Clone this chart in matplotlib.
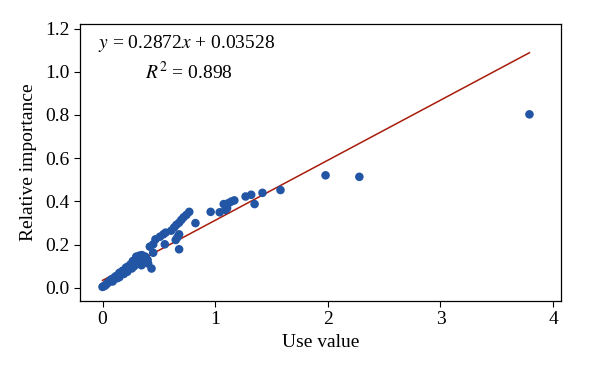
import matplotlib
matplotlib.use("Agg")
import matplotlib.pyplot as plt

# use value vs relative importance
use_value = [3.79, 2.28, 1.98, 1.58, 1.42, 1.35, 1.32, 1.27, 1.17, 1.145,
             1.12, 1.076, 1.09, 1.04, 1.106, 0.96, 0.825, 0.77, 0.745, 0.72,
             0.70, 0.68, 0.656, 0.636, 0.61, 0.68, 0.665, 0.65, 0.68, 0.56,
             0.54, 0.51, 0.47, 0.553, 0.45, 0.42, 0.45, 0.35, 0.435, 0.405,
             0.346, 0.30, 0.40, 0.38, 0.36, 0.33, 0.31, 0.29, 0.27, 0.25,
             0.26, 0.23, 0.21, 0.20, 0.18, 0.17, 0.15, 0.14, 0.12, 0.11,
             0.10, 0.08, 0.07, 0.06, 0.05, 0.04, 0.03, 0.02, 0.01, 0.0,
             0.22, 0.19, 0.28, 0.32, 0.15, 0.30, 0.13, 0.09]
rel_importance = [0.803, 0.514, 0.521, 0.453, 0.44, 0.388, 0.431, 0.423, 0.405, 0.40,
                  0.393, 0.388, 0.361, 0.35, 0.369, 0.352, 0.30, 0.352, 0.338, 0.327,
                  0.315, 0.302, 0.292, 0.28, 0.265, 0.248, 0.234, 0.222, 0.179, 0.256,
                  0.248, 0.237, 0.225, 0.202, 0.202, 0.191, 0.163, 0.152, 0.09, 0.113,
                  0.105, 0.124, 0.13, 0.145, 0.14, 0.15, 0.14, 0.13, 0.125, 0.11,
                  0.09, 0.10, 0.095, 0.085, 0.08, 0.075, 0.07, 0.06, 0.055, 0.05,
                  0.045, 0.04, 0.035, 0.03, 0.025, 0.02, 0.015, 0.01, 0.008, 0.005,
                  0.075, 0.065, 0.10, 0.115, 0.05, 0.145, 0.045, 0.03]

# fitted line as drawn in the picture
fit_x = [0.0, 3.79]
fit_y = [0.035, 1.088]

x_ticks = [0, 1, 2, 3, 4]
y_ticks = [0.0, 0.2, 0.4, 0.6, 0.8, 1.0, 1.2]

plt.rcParams["font.family"] = ["Liberation Serif", "DejaVu Serif"]
plt.rcParams["mathtext.fontset"] = "stix"

fig = plt.figure(figsize=(6, 3.72), dpi=100)
ax = fig.add_axes([0.1333, 0.191, 0.8017, 0.744])

ax.plot(fit_x, fit_y, color="#a81c0c", linewidth=1.1, zorder=2)
ax.scatter(use_value, rel_importance, s=38, color="#2255a4", edgecolors="none", zorder=3)

ax.set_xlim(-0.2, 4.07)
ax.set_ylim(-0.06, 1.22)
ax.set_xticks(x_ticks)
ax.set_xticklabels([str(t) for t in x_ticks])
ax.set_yticks(y_ticks)
ax.set_yticklabels([f"{t:.1f}" for t in y_ticks])
ax.tick_params(labelsize=14, direction="out", length=4, width=0.8)
ax.set_xlabel("Use value", fontsize=14, labelpad=4)
ax.set_ylabel("Relative importance", fontsize=14, labelpad=6)

ax.text(0.75, 1.129, "$y$ = 0.2872$x$ + 0.03528", fontsize=14, ha="center", va="center")
ax.text(0.77, 0.999, "$R^2$ = 0.898", fontsize=14, ha="center", va="center")

for s in ax.spines.values():
    s.set_linewidth(0.9)

fig.savefig("out.png", dpi=100)
